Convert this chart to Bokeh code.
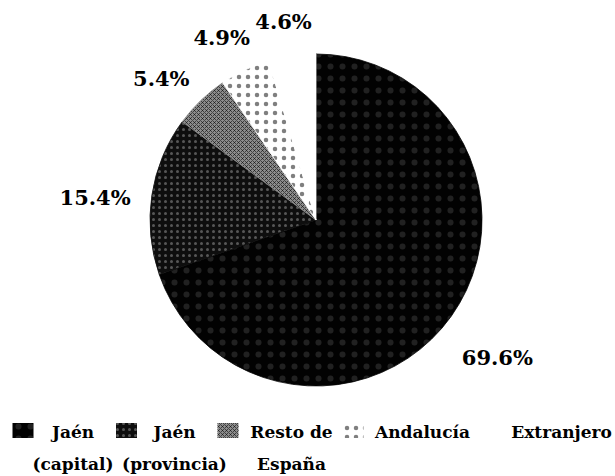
import numpy as np
from bokeh.plotting import figure
from bokeh.models import Range1d, ColumnDataSource
from bokeh.core.properties import value
from bokeh.embed import file_html
from bokeh.resources import INLINE

# ---- data ----
categories = ["Jaén\n(capital)", "Jaén\n(provincia)", "Resto de\nEspaña", "Andalucía", "Extranjero"]
shares = [69.6, 15.4, 5.4, 4.9, 4.6]

# ---- styles ----
fills = ["#020202", "#0e0e0e", "#8c8c8c", "#ffffff", "#ffffff"]
hatch_patterns = ["dot", "dot", "diagonal_cross", "dot", " "]
hatch_colors = ["white", "white", "black", "black", "white"]
hatch_scales = [12, 6, 4, 9, 1]
hatch_alphas = [0.12, 0.3, 0.55, 0.5, 0.0]
FONT = value("DejaVu Serif")

# ---- layout (reference pixel coordinates, y downward -> converted) ----
W, H = 615, 476
def Y(y_img):
    return H - y_img

cx, cy_img, R = 315.5, 219.5, 166
label_r = 228
label_nudge = [(-4.5, 5.7), (4.6, 11.4), (3.6, 22.7), (3.5, 23.9), (0.4, 27.2)]
legend_centers = [72.5, 174, 291, 422, 561]
swatch_x = [22.5, 126, 227.5, 352.5, 497]
row1_y, row2_y = 431, 463

# ---- derived ----
tot = sum(shares)
cum = np.concatenate([[0.0], np.cumsum(shares)]) / tot
start = np.pi / 2 - 2 * np.pi * cum[:-1]
end = np.pi / 2 - 2 * np.pi * cum[1:]
mid = (cum[:-1] + cum[1:]) / 2 * 2 * np.pi  # clockwise from top

src = ColumnDataSource(dict(
    start=start, end=end, fill=fills, hatch=hatch_patterns,
    hcolor=hatch_colors, hscale=hatch_scales, halpha=hatch_alphas,
))

p = figure(width=W, height=H, output_backend="svg", toolbar_location=None,
           x_range=Range1d(0, W), y_range=Range1d(0, H),
           min_border=0, outline_line_color=None, background_fill_color="white",
           x_axis_location=None, y_axis_location=None)
p.xgrid.visible = False
p.ygrid.visible = False

p.wedge(x=cx, y=Y(cy_img), radius=R, start_angle="start", end_angle="end",
        direction="clock", fill_color="fill", line_color="fill", line_width=0.8,
        hatch_pattern="hatch", hatch_color="hcolor", hatch_scale="hscale",
        hatch_alpha="halpha", hatch_weight=1, source=src)

# percentage labels
lx = [cx + label_r * np.sin(m) + d[0] for m, d in zip(mid, label_nudge)]
ly = [Y(cy_img - label_r * np.cos(m) + d[1]) for m, d in zip(mid, label_nudge)]
label_texts = [f"{v:.1f}%" for v in shares]
p.text(x=lx, y=ly, text=label_texts, text_font=FONT,
       text_font_style="bold", text_font_size="21px", text_align="center",
       text_baseline="middle", text_color="black")

# legend
lsrc = ColumnDataSource(dict(
    x=swatch_x, y=[Y(row1_y - 1)] * len(shares), fill=fills, hatch=hatch_patterns,
    hcolor=hatch_colors, hscale=hatch_scales, halpha=hatch_alphas,
))
p.rect(x="x", y="y", width=21, height=15, fill_color="fill", line_color=None,
       hatch_pattern="hatch", hatch_color="hcolor", hatch_scale="hscale",
       hatch_alpha="halpha", hatch_weight=1, source=lsrc)

line1 = [c.split("\n")[0] for c in categories]
line2 = [c.split("\n")[1] if "\n" in c else "" for c in categories]
for row_text, row_y in ((line1, row1_y), (line2, row2_y)):
    p.text(x=legend_centers, y=[Y(row_y)] * len(row_text), text=row_text,
           text_font=FONT, text_font_style="bold",
           text_font_size="17px", text_align="center", text_baseline="middle",
           text_color="black")

open("out.html", "w").write(file_html(p, INLINE))
